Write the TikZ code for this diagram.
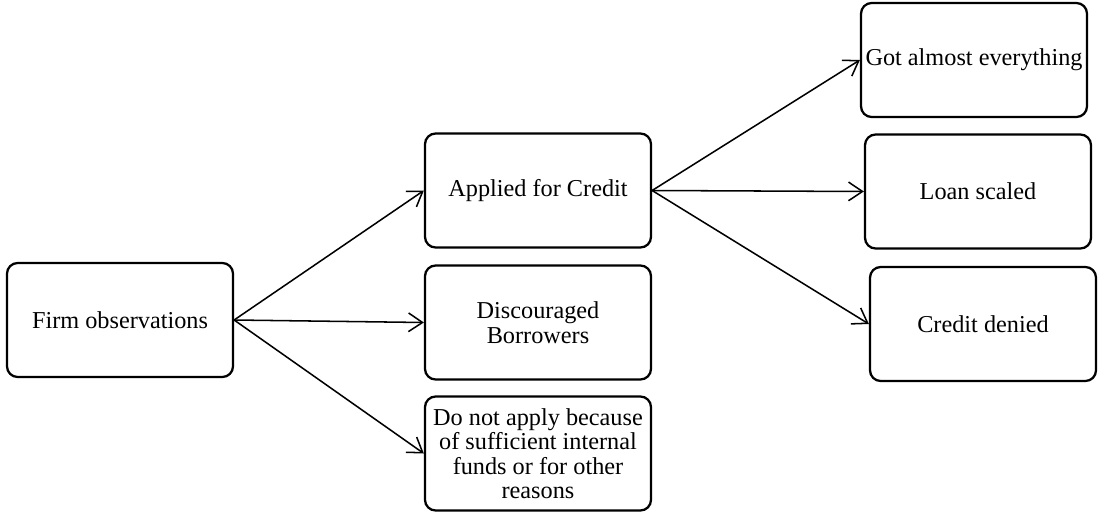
\documentclass[tikz,border=0pt]{standalone}
\usepackage{fontspec}
\setmainfont{Liberation Serif}
\usetikzlibrary{arrows.meta}
\begin{document}
\begin{tikzpicture}[x=0.75pt,y=-0.75pt,
  box/.style={draw, line width=1.7pt, rounded corners=8pt, minimum width=169.5pt, minimum height=85.5pt, align=center, font=\fontsize{18.2}{18.4}\selectfont, inner sep=1pt},
  conn/.style={line width=1.15pt, -{Straight Barb[length=10.5pt,width=14pt,line width=1.15pt]}}]
\useasboundingbox (0,0) rectangle (1098,514);
\node[box] (firm) at (120,320) {Firm observations};
\node[box] (applied) at (538,190.5) {Applied for Credit};
\node[box] (disc) at (538,322.5) {Discouraged\\Borrowers};
\node[box] (dna) at (538,453.5) {Do not apply because\\of sufficient internal\\funds or for other\\reasons};
\node[box] (got) at (974,60) {Got almost everything};
\node[box] (loan) at (978,191.5) {Loan scaled};
\node[box] (denied) at (983,324) {Credit denied};
\draw[conn] (firm.east) -- (applied.west);
\draw[conn] (firm.east) -- (disc.west);
\draw[conn] (firm.east) -- (dna.west);
\draw[conn] (applied.east) -- (got.west);
\draw[conn] (applied.east) -- (loan.west);
\draw[conn] (applied.east) -- (denied.west);
\end{tikzpicture}
\end{document}
